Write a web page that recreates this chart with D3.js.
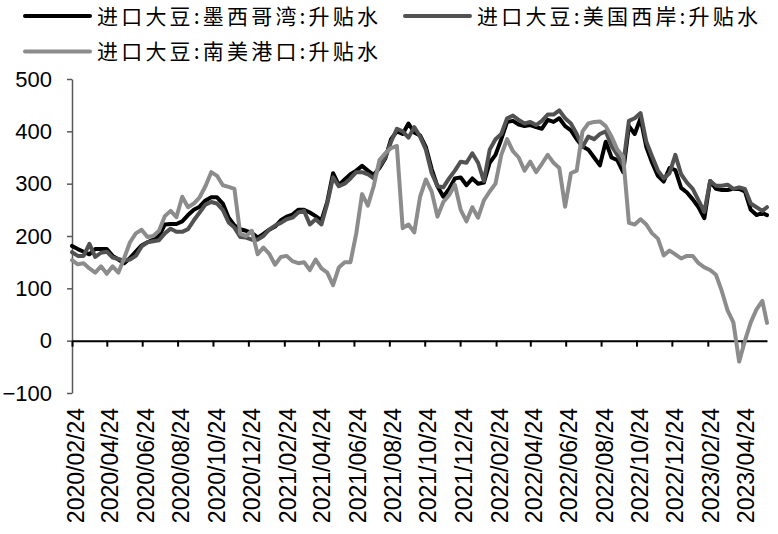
<!DOCTYPE html>
<html>
<head>
<meta charset="utf-8">
<script src="https://cdn.jsdelivr.net/npm/d3@7"></script>
<style>
  body { margin: 0; background: #fff; }
  svg { display: block; }
</style>
</head>
<body>
<svg id="chart" width="778" height="534"></svg>
<script>
// sample dates (about every 10 days)
const dates = [
  "2020-02-24","2020-03-05","2020-03-15","2020-03-25","2020-04-04","2020-04-14","2020-04-24","2020-05-04","2020-05-14","2020-05-24",
  "2020-06-03","2020-06-13","2020-06-23","2020-07-03","2020-07-13","2020-07-23","2020-08-02","2020-08-12","2020-08-22","2020-09-01",
  "2020-09-11","2020-09-21","2020-10-01","2020-10-11","2020-10-21","2020-10-31","2020-11-10","2020-11-20","2020-11-30","2020-12-10",
  "2020-12-20","2020-12-30","2021-01-09","2021-01-19","2021-01-29","2021-02-08","2021-02-18","2021-02-28","2021-03-10","2021-03-20",
  "2021-03-30","2021-04-09","2021-04-19","2021-04-29","2021-05-09","2021-05-19","2021-05-29","2021-06-08","2021-06-18","2021-06-28",
  "2021-07-08","2021-07-18","2021-07-28","2021-08-07","2021-08-17","2021-08-27","2021-09-06","2021-09-16","2021-09-26","2021-10-06",
  "2021-10-16","2021-10-26","2021-11-05","2021-11-15","2021-11-25","2021-12-05","2021-12-15","2021-12-25","2022-01-04","2022-01-14",
  "2022-01-24","2022-02-03","2022-02-13","2022-02-23","2022-03-05","2022-03-15","2022-03-25","2022-04-04","2022-04-14","2022-04-24",
  "2022-05-04","2022-05-14","2022-05-24","2022-06-03","2022-06-13","2022-06-23","2022-07-03","2022-07-13","2022-07-23","2022-08-02",
  "2022-08-12","2022-08-22","2022-09-01","2022-09-11","2022-09-21","2022-10-01","2022-10-11","2022-10-21","2022-10-31","2022-11-10",
  "2022-11-20","2022-11-30","2022-12-10","2022-12-20","2022-12-30","2023-01-09","2023-01-19","2023-01-29","2023-02-08","2023-02-18",
  "2023-02-28","2023-03-10","2023-03-20","2023-03-30","2023-04-09","2023-04-19","2023-04-29","2023-05-09","2023-05-19","2023-05-29",
  "2023-06-06"
];

const mexicoGulf = [
  181,175,170,165,175,175,175,162,155,148,
  158,170,182,188,193,200,222,223,223,228,
  240,250,256,268,274,274,262,235,220,213,
  210,206,197,204,212,218,230,237,241,250,
  250,245,238,230,265,320,297,308,318,325,
  334,325,317,330,348,385,400,395,415,398,
  392,370,328,295,275,290,310,312,297,310,
  300,302,340,355,385,418,420,413,410,412,
  408,405,422,418,425,410,402,385,371,365,
  350,335,380,350,345,322,410,395,425,370,
  340,315,304,330,326,292,283,270,255,234,
  305,290,288,288,290,290,285,250,240,244,
  240
];

const usWestCoast = [
  169,162,162,185,160,168,170,159,156,153,
  155,162,180,188,190,192,205,214,208,208,
  213,230,245,260,265,262,250,226,216,198,
  197,193,193,200,212,220,225,232,235,245,
  248,222,232,222,262,312,295,300,310,322,
  322,318,310,333,350,380,405,400,388,408,
  390,365,320,295,293,310,325,342,340,358,
  340,305,365,385,395,425,430,422,415,418,
  412,420,432,432,440,425,415,395,370,390,
  385,395,400,372,355,335,420,425,435,380,
  352,325,310,320,355,318,302,290,268,246,
  305,296,296,298,290,293,290,262,255,248,
  255
];

const southAmerica = [
  154,146,148,138,130,142,128,142,130,158,
  188,205,212,198,200,210,238,248,236,275,
  255,262,274,295,322,315,297,294,290,204,
  200,210,165,178,166,145,160,162,152,148,
  150,135,155,138,130,106,140,150,150,205,
  280,258,295,345,358,368,372,215,222,207,
  275,308,285,237,265,278,298,250,228,255,
  235,268,285,300,355,385,362,350,325,342,
  322,338,355,340,330,256,320,325,400,415,
  418,419,410,390,365,352,225,222,232,222,
  205,195,163,172,165,157,162,162,148,140,
  135,126,95,58,35,-40,0,35,60,76,
  34
];

const seriesNames = ["进口大豆:墨西哥湾:升贴水", "进口大豆:美国西岸:升贴水", "进口大豆:南美港口:升贴水"];

const tickDates = [
  "2020/02/24","2020/04/24","2020/06/24","2020/08/24","2020/10/24","2020/12/24",
  "2021/02/24","2021/04/24","2021/06/24","2021/08/24","2021/10/24","2021/12/24",
  "2022/02/24","2022/04/24","2022/06/24","2022/08/24","2022/10/24","2022/12/24",
  "2023/02/24","2023/04/24"
];

const yTicks = [-100, 0, 100, 200, 300, 400, 500];

const colors = ["#000000", "#525252", "#8c8c8c"];
const numFont = "'Liberation Sans', Arial, sans-serif";
const cjkFont = "'Noto Sans CJK SC', sans-serif";

const parseDay = d3.timeParse("%Y-%m-%d");
const parseTick = d3.timeParse("%Y/%m/%d");
const xDates = dates.map(parseDay);

const svg = d3.select("#chart");

const x = d3.scaleTime()
  .domain([xDates[0], xDates[xDates.length - 1]])
  .range([72, 767]);

const y = d3.scaleLinear()
  .domain([-100, 500])
  .range([393, 79]);

// y axis
svg.append("g")
    .attr("transform", "translate(72,0)")
    .call(d3.axisLeft(y).tickValues(yTicks).tickSize(5).tickSizeOuter(0).tickPadding(15))
    .call(g => g.select(".domain").attr("stroke", "#595959").attr("stroke-width", 1.5))
    .call(g => g.selectAll(".tick line").attr("stroke", "#595959").attr("stroke-width", 1.5))
    .call(g => g.selectAll(".tick text")
        .attr("font-family", numFont)
        .attr("font-size", 22)
        .attr("fill", "#000"));

// x axis sits on zero, labels at the bottom
const labelTop = 408;
svg.append("g")
    .attr("transform", `translate(0,${y(0)})`)
    .call(d3.axisBottom(x)
      .tickValues(tickDates.map(parseTick))
      .tickSize(6)
      .tickSizeOuter(0)
      .tickFormat(d3.timeFormat("%Y/%m/%d")))
    .call(g => g.select(".domain").attr("stroke", "#000").attr("stroke-width", 2))
    .call(g => g.selectAll(".tick line").attr("stroke", "#000").attr("stroke-width", 2))
    .call(g => g.selectAll(".tick text")
        .attr("transform", `translate(3,${labelTop - y(0)}) rotate(-90)`)
        .attr("x", 0)
        .attr("y", 0)
        .attr("dy", "0.35em")
        .attr("text-anchor", "end")
        .attr("font-family", numFont)
        .attr("font-size", 23)
        .attr("fill", "#000"));

const line = d3.line()
  .x((d, i) => x(xDates[i]))
  .y(d => y(d));

const series = [mexicoGulf, usWestCoast, southAmerica];

svg.append("g")
    .attr("fill", "none")
    .attr("stroke-width", 4)
    .attr("stroke-linejoin", "round")
    .attr("stroke-linecap", "round")
  .selectAll("path")
  .data(series)
  .join("path")
    .attr("stroke", (d, i) => colors[i])
    .attr("d", d => line(d));

// legend
const legendPos = [[25, 16], [405, 16], [25, 51.5]];
const legend = svg.append("g")
  .selectAll("g")
  .data(seriesNames)
  .join("g")
    .attr("transform", (d, i) => `translate(${legendPos[i][0]},${legendPos[i][1]})`);

legend.append("line")
    .attr("x1", 0)
    .attr("x2", 65)
    .attr("stroke", (d, i) => colors[i])
    .attr("stroke-width", 4)
    .attr("stroke-linecap", "round");

legend.append("text")
    .attr("x", 72)
    .attr("dy", "0.38em")
    .attr("font-family", cjkFont)
    .attr("font-size", 21)
    .attr("textLength", 281)
    .attr("lengthAdjust", "spacing")
    .attr("fill", "#000")
    .text(d => d);
</script>
</body>
</html>
